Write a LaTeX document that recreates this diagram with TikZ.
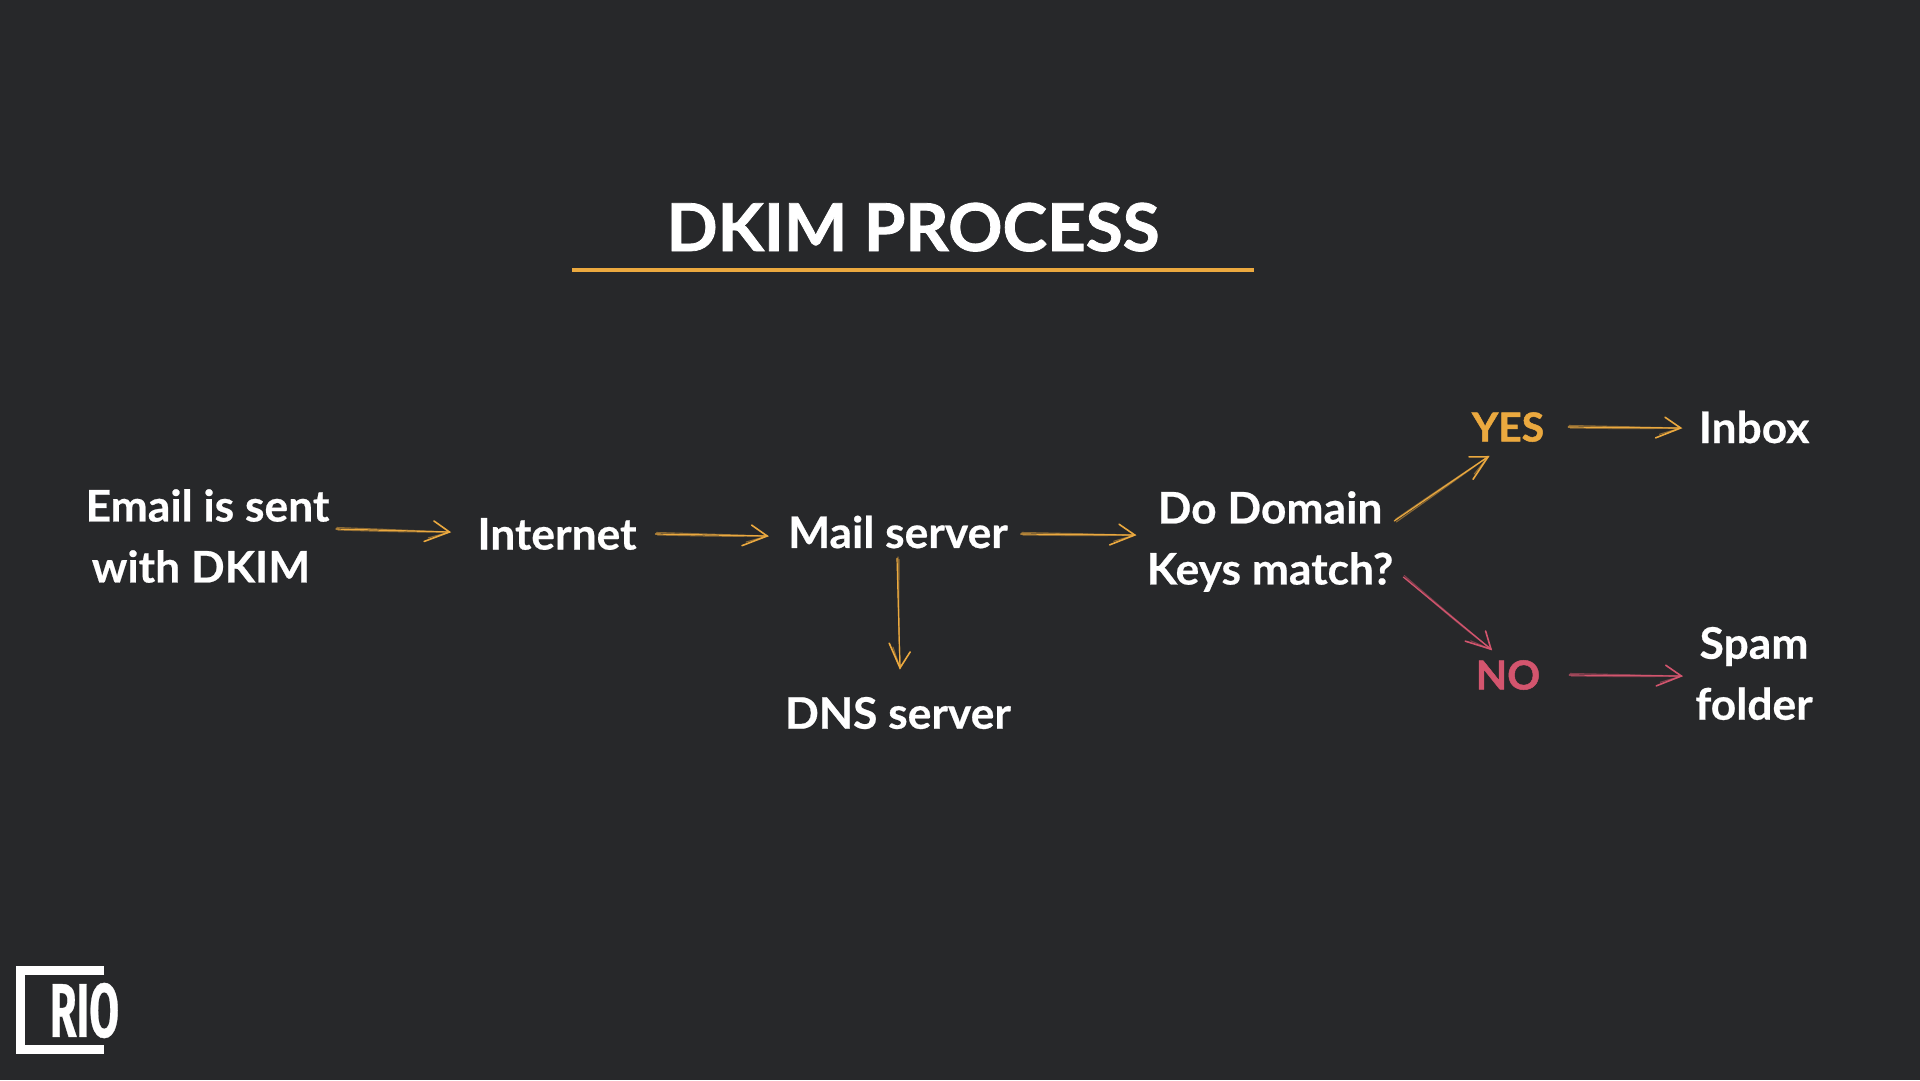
\documentclass[tikz,border=0pt]{standalone}
\usepackage{fontspec}
\setmainfont{Lato}
\newfontfamily\bodyface{Lato}[BoldFeatures={FakeBold=0.5,FakeStretch=1.02}]
\newfontfamily\titleface{Lato}[BoldFeatures={FakeBold=1.2,FakeStretch=1.02}]
\newfontfamily\logofont{Fira Sans}[BoldFeatures={FakeBold=0.5}]
\usetikzlibrary{calc}
\definecolor{bgc}{HTML}{27282A}
\definecolor{oran}{HTML}{EBA93F}
\definecolor{pinkc}{HTML}{D3556E}
\tikzset{
  lbl/.style={font=\fontsize{43.5}{61}\selectfont\bodyface\bfseries,text=white,inner sep=0pt,outer sep=0pt,align=center},
  titlelbl/.style={font=\fontsize{66}{70}\selectfont\titleface\bfseries,text=white,inner sep=0pt,outer sep=0pt},
  decis/.style={lbl,font=\fontsize{40}{50}\selectfont\titleface\bfseries},
  shaft/.style={line width=1.2pt,line cap=round},
  ghost/.style={line width=1.1pt,opacity=.5,line cap=round},
  barb/.style={line width=1.6pt,line cap=round}
}
% \skarrow{colour}{start}{end}
\newcommand{\skarrow}[3]{%
  \coordinate (s) at #2; \coordinate (e) at #3;
  \draw[shaft,#1] (s) -- (e);
  \draw[ghost,#1] ($(s)+(1,-1.5)$) .. controls ($(s)!.4!(e)+(0,-1)$) .. (e);
  \draw[ghost,#1] ($(s)+(2,1)$) .. controls ($(s)!.6!(e)+(0,1.2)$) .. (e);
  \draw[barb,#1] ($(e)!19pt!-34:(s)$) -- (e) -- ($(e)!27pt!22:(s)$);
  \draw[ghost,#1] (e) -- ($(e)!22pt!17:(s)$);
}
\begin{document}
\begin{tikzpicture}[x=1pt,y=-1pt]
\useasboundingbox (0,0) rectangle (1920,1080);
\fill[bgc] (0,0) rectangle (1920,1080);
\node[titlelbl,anchor=base] (title) at (913,251) {DKIM PROCESS};
\draw[oran,line width=4pt] (572,270) -- (1254,270);
\node[lbl] (email) at (207.5,536) {Email is sent\\with DKIM\kern 13pt};
\node[lbl] (internet) at (557,534) {Internet};
\node[lbl] (mail) at (898,532) {Mail server};
\node[lbl] (dns) at (898,713) {DNS server};
\node[lbl] (keys) at (1270,541.5) {Do Domain\\Keys match?};
\node[decis,text=oran] (yes) at (1508,427) {YES};
\node[decis,text=pinkc] (no) at (1508,675) {NO};
\node[lbl] (inbox) at (1754,427) {Inbox};
\node[lbl] (spam) at (1754,673.5) {Spam\\folder};
\skarrow{oran}{($(email.east)+(6.5,-7)$)}{($(internet.west)+(-28,-2)$)}
\skarrow{oran}{($(internet.east)+(19,0)$)}{($(mail.west)+(-21,4)$)}
\skarrow{oran}{($(mail.east)+(13,2)$)}{($(keys.west)+(-12,-6.5)$)}
\skarrow{oran}{($(mail.south)+(-1,10)$)}{($(dns.north)+(2,-29)$)}
\skarrow{oran}{($(keys.east)+(1,-20.5)$)}{($(yes.south)+(-20,15)$)}
\skarrow{pinkc}{($(keys.east)+(10,35.5)$)}{($(no.north)+(-17,-11)$)}
\skarrow{oran}{($(yes.east)+(24,0)$)}{($(inbox.west)+(-18,1)$)}
\skarrow{pinkc}{($(no.east)+(29,0)$)}{($(spam.west)+(-14,2.5)$)}
\draw[white,line width=9pt] (104,970.5) -- (20.5,970.5) -- (20.5,1049.5) -- (104,1049.5);
\node[inner sep=0pt,text=white,font=\fontsize{76}{76}\selectfont\logofont\bfseries,xscale=.57] (logo) at (84.5,1010.5) {RIO};
\end{tikzpicture}
\end{document}
